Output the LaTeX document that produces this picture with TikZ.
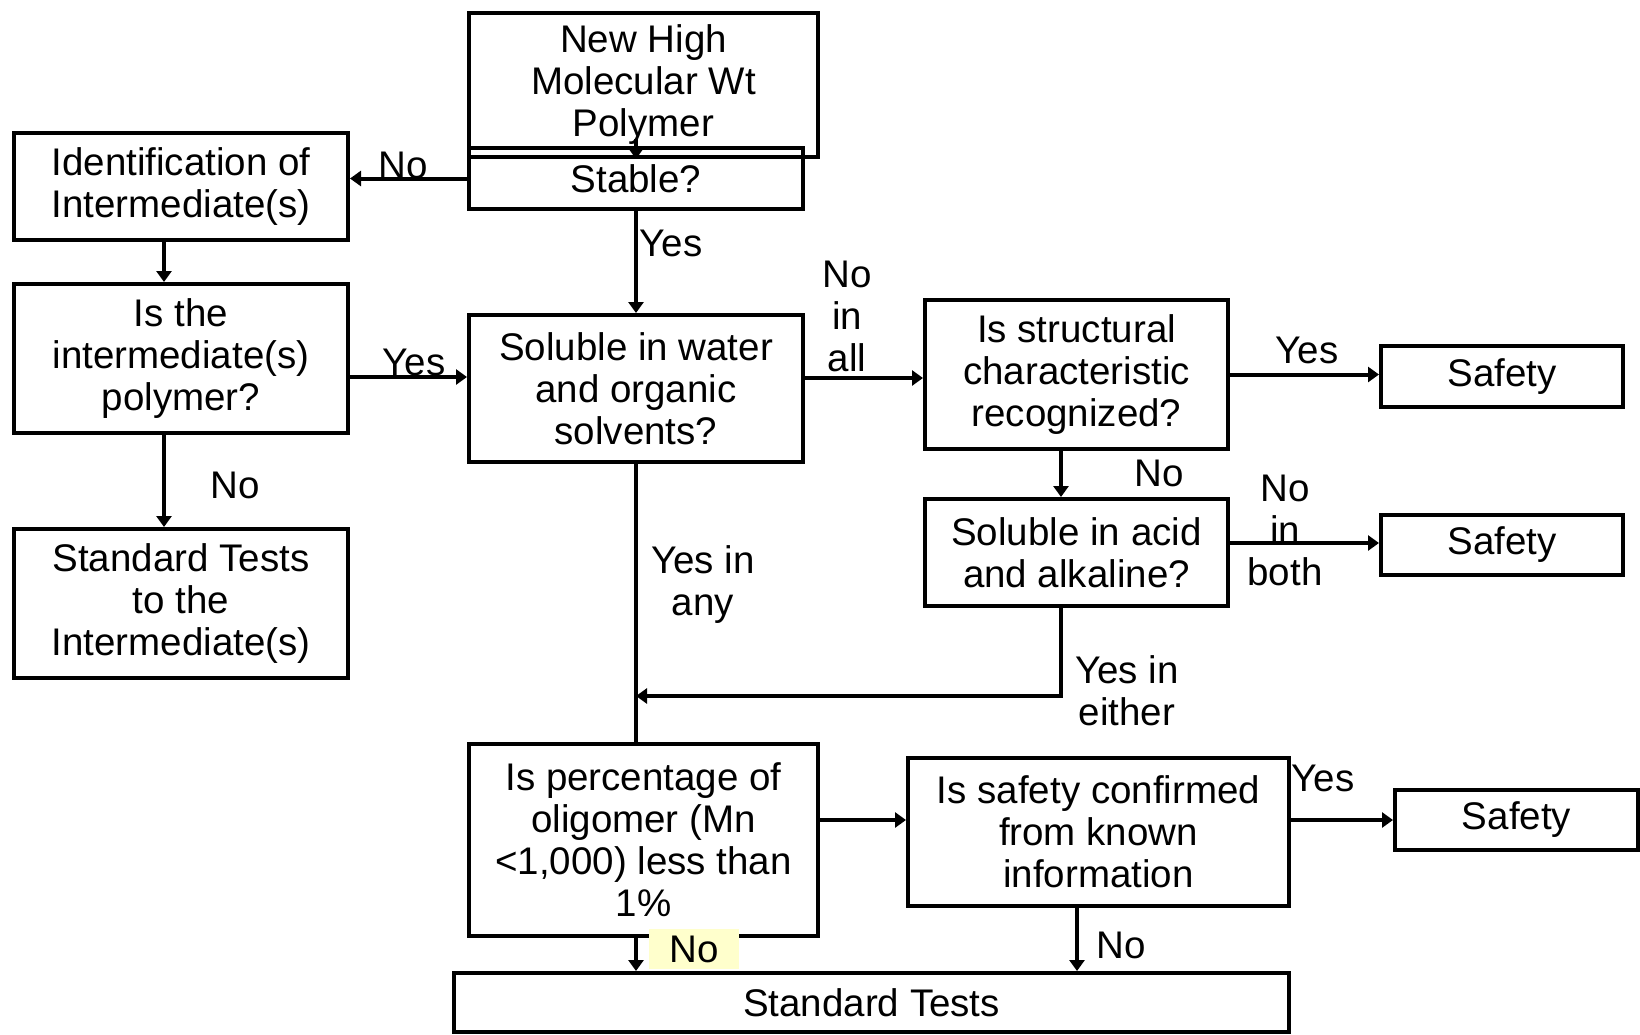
\documentclass[tikz,border=0pt]{standalone}
\usepackage{fontspec}
\setmainfont{Liberation Sans}
\usetikzlibrary{arrows.meta}
\definecolor{hl}{HTML}{FFFFCC}
\begin{document}
\begin{tikzpicture}[x=1pt,y=-1pt,
  font=\fontsize{38.5}{42}\selectfont,
  box/.style={draw, line width=4pt, inner sep=0pt, align=center},
  lbl/.style={inner sep=0pt, align=center},
  conn/.style={line width=4pt},
  arr/.style={conn, -{Triangle[length=11pt,width=15pt]}}]
\useasboundingbox (0,0) rectangle (1640,1034);
% boxes
\node[box, minimum width=349pt, minimum height=144pt] (top) at (643.5,85) {New High\\Molecular Wt\\Polymer};
\node[box, minimum width=334pt, minimum height=61pt] (stable) at (636,178.5) {Stable?};
\node[box, minimum width=334pt, minimum height=107pt] (ident) at (181,186.5) {Identification of\\Intermediate(s)};
\node[box, minimum width=334pt, minimum height=149pt] (isint) at (181,358.5) {Is the\\intermediate(s)\\polymer?};
\node[box, minimum width=334pt, minimum height=149pt] (stdint) at (181,603.5) {Standard Tests\\to the\\Intermediate(s)};
\node[box, minimum width=334pt, minimum height=147pt] (solw) at (636,388.5) {Soluble in water\\and organic\\solvents?};
\node[box, minimum width=303pt, minimum height=149pt] (struct) at (1076.5,374.5) {Is structural\\characteristic\\recognized?};
\node[box, minimum width=242pt, minimum height=61pt] (saf1) at (1502,376.5) {Safety};
\node[box, minimum width=303pt, minimum height=107pt] (sola) at (1076.5,552.5) {Soluble in acid\\and alkaline?};
\node[box, minimum width=242pt, minimum height=60pt] (saf2) at (1502,545) {Safety};
\node[box, minimum width=349pt, minimum height=192pt] (perc) at (643.5,840) {Is percentage of\\oligomer (Mn\\<1,000) less than\\1\%};
\node[box, minimum width=381pt, minimum height=148pt] (conf) at (1098.5,832) {Is safety confirmed\\from known\\information};
\node[box, minimum width=243pt, minimum height=60pt] (saf3) at (1516.5,820) {Safety};
\node[box, minimum width=835pt, minimum height=59pt] (std) at (871.5,1002.5) {Standard Tests};
\coordinate (join) at (636,696);
% connectors
\draw[arr] ([yshift=20pt]top.south -| stable.north) -- (top.south -| stable.north);
\draw[arr] (stable.west) -- (stable.west -| ident.east);
\draw[arr] ([xshift=-17pt]ident.south) -- ([xshift=-17pt]ident.south |- isint.north);
\draw[arr] ([xshift=-17pt]isint.south) -- ([xshift=-17pt]isint.south |- stdint.north);
\draw[arr] ([yshift=-18.5pt]isint.east) -- ([yshift=-18.5pt]isint.east -| solw.west);
\draw[arr] (stable.south) -- (solw.north);
\draw[arr] ([yshift=10.5pt]solw.east) -- ([yshift=10.5pt]solw.east -| struct.west);
\draw[arr] (struct.east) -- (struct.east -| saf1.west);
\draw[arr] ([xshift=-15.5pt]struct.south) -- ([xshift=-15.5pt]struct.south |- sola.north);
\draw[arr] ([yshift=9.5pt]sola.east) -- ([yshift=9.5pt]sola.east -| saf2.west);
\draw[arr] ([xshift=-15.5pt]sola.south) |- (join);
\draw[conn] (solw.south) -- (solw.south |- perc.north);
\draw[arr] ([yshift=20pt]perc.east) -- ([yshift=20pt]perc.east -| conf.west);
\draw[arr] ([yshift=12pt]conf.east) -- ([yshift=12pt]conf.east -| saf3.west);
\draw[arr] ([xshift=-7.5pt]perc.south) -- ([xshift=-7.5pt]perc.south |- std.north);
\draw[arr] ([xshift=-21.5pt]conf.south) -- ([xshift=-21.5pt]conf.south |- std.north);
% labels
\node[lbl] (lno1) at (403,165) {No};
\node[lbl] (lyes1) at (671,243) {Yes};
\node[lbl] (lyes2) at (414,362) {Yes};
\node[lbl] (lno2) at (235,485) {No};
\node[lbl] (lnoall) at (847,316) {No\\in\\all};
\node[lbl] (lyes3) at (1307,350) {Yes};
\node[lbl] (lno3) at (1159,473) {No};
\node[lbl] (lnoboth) at (1285,530) {No\\in\\both};
\node[lbl] (leither) at (1127,691) {Yes in\\either};
\node[lbl] (lany) at (703,585) {Yes in\\any};
\node[lbl] (lyes4) at (1323,778) {Yes};
\node[lbl, fill=hl, minimum width=90pt, minimum height=40pt] (lno4) at (694,949) {No};
\node[lbl] (lno5) at (1121,945) {No};
\end{tikzpicture}
\end{document}
